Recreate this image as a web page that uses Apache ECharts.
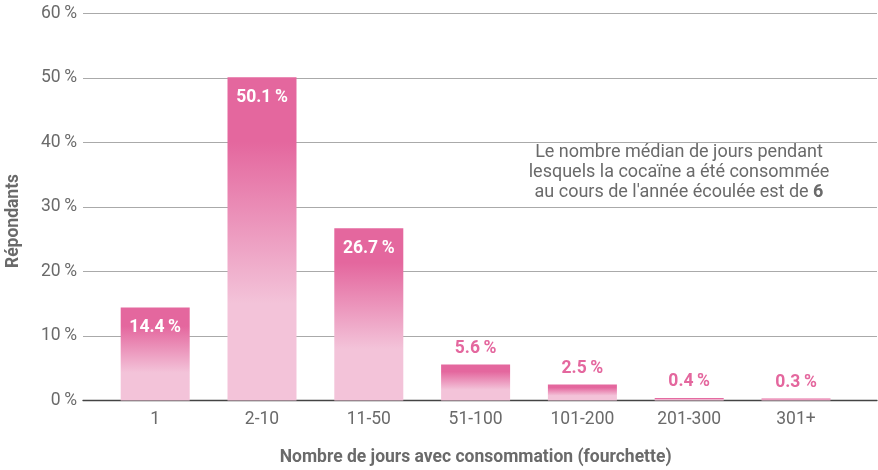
<!DOCTYPE html>
<html>
<head>
<meta charset="utf-8">
<script src="https://cdn.jsdelivr.net/npm/echarts@6/dist/echarts.min.js"></script>
<style>html,body{margin:0;padding:0;background:#fff}#c{width:878px;height:470px}</style>
</head>
<body>
<div id="c"></div>
<script>
const categories = ['1', '2-10', '11-50', '51-100', '101-200', '201-300', '301+'];
const values = [14.4, 50.1, 26.7, 5.6, 2.5, 0.4, 0.3];
const yTicks = [0, 10, 20, 30, 40, 50, 60];
const insideThreshold = 10;

const FONT = 'Roboto, "Liberation Sans", sans-serif';
const FS = 17.5;
const GRAY = '#6a6a6a';
const PINK = '#e4679e';
const LIGHT = '#f3c3d9';

const chart = echarts.init(document.getElementById('c'), null, {renderer: 'canvas'});

const barData = values.map(v => ({
  value: v,
  label: v >= insideThreshold
    ? {position: 'insideTop', distance: 11, color: '#fff'}
    : {position: 'top', distance: 7, color: PINK}
}));

const option = {
  animation: false,
  textStyle: {fontFamily: FONT},
  grid: [
    {left: 83, right: 1, top: 13.5, bottom: 69.5, containLabel: false, outerBoundsMode: 'none'},
    {left: 101.8, right: 28.6, top: 13.5, bottom: 69.5, containLabel: false, outerBoundsMode: 'none'}
  ],
  xAxis: [
    {gridIndex: 0, type: 'category', data: [''],
     axisLine: {show: true, lineStyle: {color: '#444', width: 1.3}},
     axisTick: {show: false}, axisLabel: {show: false}},
    {gridIndex: 1, type: 'category', data: categories,
     axisLine: {show: false}, axisTick: {show: false},
     axisLabel: {color: GRAY, fontSize: FS, margin: 10, fontFamily: FONT},
     name: 'Nombre de jours avec consommation (fourchette)',
     nameLocation: 'middle', nameGap: 48,
     nameTextStyle: {color: GRAY, fontSize: FS, fontWeight: 'bold', fontFamily: FONT}}
  ],
  yAxis: [
    {gridIndex: 0, type: 'value', min: 0, max: 60, interval: 10,
     axisLine: {show: false}, axisTick: {show: false},
     axisLabel: {color: GRAY, fontSize: FS, margin: 6, fontFamily: FONT,
       formatter: v => yTicks.includes(v) ? v + '\u2009%' : ''},
     splitLine: {show: true, lineStyle: {color: '#aaa', width: 1}}},
    {gridIndex: 1, type: 'value', min: 0, max: 60, interval: 10, show: false,
     splitLine: {show: false}}
  ],
  graphic: [
    {type: 'text', x: 14, y: 221, rotation: Math.PI / 2,
     style: {text: 'Répondants', font: 'bold ' + FS + 'px ' + FONT, fill: GRAY,
       textAlign: 'center', textVerticalAlign: 'middle'}},
    {type: 'text', x: 679, y: 172,
     style: {
       text: 'Le nombre médian de jours pendant\nlesquels la cocaïne a été consommée\nau cours de l\'année écoulée est de {b|6}',
       rich: {b: {fontWeight: 'bold', fontSize: 18, fill: GRAY, fontFamily: FONT}},
       font: '18px ' + FONT, fill: GRAY, lineHeight: 20,
       textAlign: 'center', textVerticalAlign: 'middle'}}
  ],
  series: [{
    type: 'bar',
    xAxisIndex: 1, yAxisIndex: 1,
    data: barData,
    barWidth: 69,
    itemStyle: {
      color: new echarts.graphic.LinearGradient(0, 0, 0, 1, [
        {offset: 0, color: PINK},
        {offset: 0.2, color: PINK},
        {offset: 0.7, color: LIGHT},
        {offset: 1, color: LIGHT}
      ])
    },
    label: {show: true, fontSize: FS, fontWeight: 'bold', fontFamily: FONT,
      formatter: p => p.value.toFixed(1) + '\u2009%'}
  }]
};
chart.setOption(option);
</script>
</body>
</html>
